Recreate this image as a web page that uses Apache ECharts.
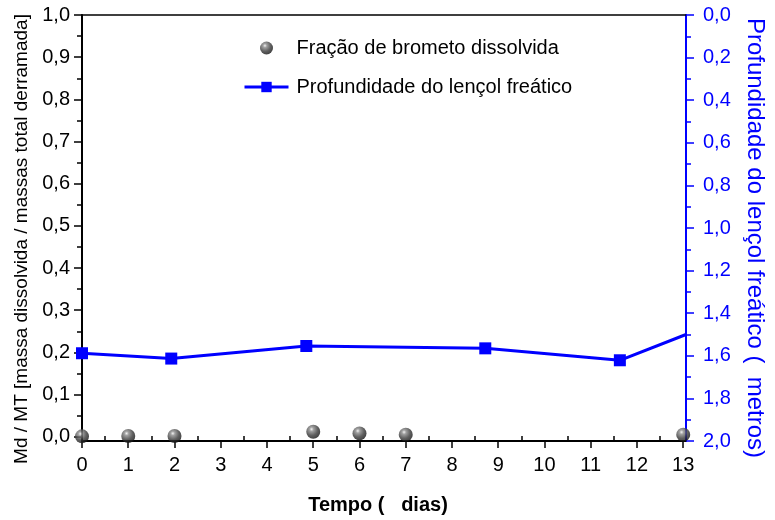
<!DOCTYPE html>
<html>
<head>
<meta charset="utf-8">
<script src="https://cdn.jsdelivr.net/npm/echarts@6/dist/echarts.min.js"></script>
<style>
  html, body { margin: 0; padding: 0; background: #fff; }
  #chart { width: 775px; height: 520px; }
</style>
</head>
<body>
<div id="chart"></div>
<script>
// Dissolved bromide fraction (left axis)
const bromideDays = [0, 1, 2, 5, 6, 7, 13];
const bromideFraction = [0.001, 0.002, 0.002, 0.012, 0.008, 0.005, 0.005];

// Water-table depth in metres (right axis, inverted)
const depthDays = [0, 1.93, 4.85, 8.72, 11.63, 13.06];
const depthMetres = [1.588, 1.613, 1.554, 1.565, 1.621, 1.50];

// Tick positions
const dayTicks = [0, 1, 2, 3, 4, 5, 6, 7, 8, 9, 10, 11, 12, 13];
const dayMinorTicks = [0.5, 1.5, 2.5, 3.5, 4.5, 5.5, 6.5, 7.5, 8.5, 9.5, 10.5, 11.5, 12.5];
const fractionTicks = [0, 0.1, 0.2, 0.3, 0.4, 0.5, 0.6, 0.7, 0.8, 0.9, 1.0];
const fractionMinorTicks = [0.05, 0.15, 0.25, 0.35, 0.45, 0.55, 0.65, 0.75, 0.85, 0.95];

const FONT = "'Liberation Sans', Arial, sans-serif";
const BLUE = '#0000ff';
const comma = v => v.toFixed(1).replace('.', ',');

const sphere = new echarts.graphic.RadialGradient(0.38, 0.32, 0.68, [
  { offset: 0, color: '#f0f0f0' },
  { offset: 0.22, color: '#888888' },
  { offset: 0.65, color: '#383838' },
  { offset: 1, color: '#151515' }
]);

const chart = echarts.init(document.getElementById('chart'), null, { renderer: 'canvas' });

chart.setOption({
  animation: false,
  backgroundColor: '#fff',
  textStyle: { fontFamily: FONT },
  grid: { left: 82, right: 82, top: 15, bottom: 76, containLabel: false },
  legend: {
    orient: 'vertical',
    left: 238,
    top: 33,
    itemWidth: 44,
    itemHeight: 13,
    itemGap: 19,
    textStyle: { fontSize: 20, color: '#000', fontFamily: FONT, lineHeight: 20, padding: [0, 0, 0, 3] },
    data: [
      { name: 'Fração de brometo dissolvida', icon: 'circle' },
      { name: 'Profundidade do lençol freático', lineStyle: { width: 3 } }
    ]
  },
  xAxis: [
    {
      type: 'value', position: 'bottom', min: 0, max: 13.06,
      name: 'Tempo (   dias)', nameLocation: 'middle', nameGap: 54,
      nameTextStyle: { fontSize: 20, fontWeight: 'bold', color: '#000', fontFamily: FONT, padding: [0, 12, 0, 0] },
      axisLine: { show: true, onZero: false, lineStyle: { color: '#000', width: 2 } },
      axisTick: { show: true, customValues: dayTicks, length: 7, lineStyle: { color: '#000', width: 1.5 } },
      axisLabel: { show: true, customValues: dayTicks, fontSize: 20, color: '#000', margin: 14, fontFamily: FONT },
      splitLine: { show: false }
    },
    {
      type: 'value', position: 'bottom', min: 0, max: 13.06,
      axisLine: { show: false, onZero: false },
      axisTick: { show: true, inside: true, customValues: dayMinorTicks, length: 5, lineStyle: { color: '#000', width: 1.5 } },
      axisLabel: { show: false },
      splitLine: { show: false }
    },
    {
      type: 'value', position: 'top', min: 0, max: 13.06,
      axisLine: { show: true, onZero: false, lineStyle: { color: '#000', width: 1.5 } },
      axisTick: { show: false },
      axisLabel: { show: false },
      splitLine: { show: false }
    }
  ],
  yAxis: [
    {
      type: 'value', position: 'left', min: -0.01, max: 1.0,
      name: 'Md / MT [massa dissolvida / massas total derramada]',
      nameLocation: 'middle', nameGap: 45, nameRotate: 90,
      nameTextStyle: { fontSize: 19, color: '#000', fontFamily: FONT, padding: [0, 22, 0, 0] },
      axisLine: { show: true, onZero: false, lineStyle: { color: '#000', width: 2 } },
      axisTick: { show: true, customValues: fractionTicks, length: 8, lineStyle: { color: '#000', width: 1.5 } },
      axisLabel: { show: true, customValues: fractionTicks, fontSize: 20, color: '#000', margin: 12, fontFamily: FONT, formatter: comma },
      splitLine: { show: false }
    },
    {
      type: 'value', position: 'right', min: 0, max: 2.0, interval: 0.2, inverse: true,
      name: 'Profundidade do lençol freático (  metros)',
      nameLocation: 'middle', nameGap: 57, nameRotate: -90,
      nameTextStyle: { fontSize: 24, color: BLUE, fontFamily: FONT, padding: [0, 0, 0, 20] },
      axisLine: { show: true, onZero: false, lineStyle: { color: BLUE, width: 2 } },
      axisTick: { show: true, length: 8, lineStyle: { color: BLUE, width: 1.5 } },
      minorTick: { show: true, splitNumber: 2, length: 5, lineStyle: { color: BLUE, width: 1.5 } },
      axisLabel: { show: true, fontSize: 20, color: BLUE, margin: 17, fontFamily: FONT, formatter: comma },
      splitLine: { show: false }
    },
    {
      type: 'value', position: 'left', min: -0.01, max: 1.0,
      axisLine: { show: false, onZero: false },
      axisTick: { show: true, customValues: fractionMinorTicks, length: 5, lineStyle: { color: '#000', width: 1.5 } },
      axisLabel: { show: false },
      splitLine: { show: false }
    }
  ],
  series: [
    {
      name: 'Fração de brometo dissolvida',
      type: 'scatter',
      xAxisIndex: 0, yAxisIndex: 0,
      symbol: 'circle', symbolSize: 14,
      itemStyle: { color: sphere },
      data: bromideDays.map((d, i) => [d, bromideFraction[i]]),
      z: 3
    },
    {
      name: 'Profundidade do lençol freático',
      type: 'line',
      xAxisIndex: 0, yAxisIndex: 1,
      symbol: 'rect', symbolSize: 12,
      clip: true,
      lineStyle: { color: BLUE, width: 3 },
      itemStyle: { color: BLUE },
      data: depthDays.map((d, i) => {
        const item = { value: [d, depthMetres[i]] };
        if (i === depthDays.length - 1) item.symbol = 'none';
        return item;
      }),
      z: 2
    }
  ]
});
</script>
</body>
</html>
